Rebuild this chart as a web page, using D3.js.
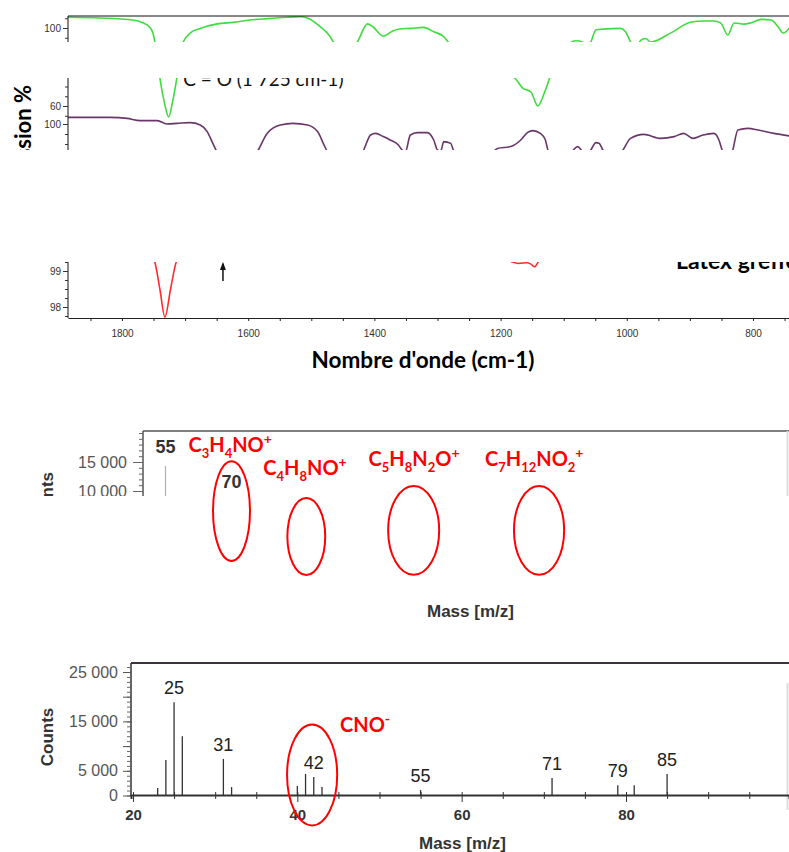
<!DOCTYPE html>
<html lang="fr">
<head>
<meta charset="UTF-8">
<title>IR et ToF-SIMS - latex greffé</title>
<script src="https://d3js.org/d3.v7.min.js"></script>
<style>
    body { margin: 0; background: #fff; }
    svg { display: block; }
</style>
</head>
<body>
<div id="chart"></div>
<script>
// ---- IR spectra : [nombre d'onde cm-1, transmission %] ----
const greenTrace = [
    [1886,105.5],[1835,105.1],[1783,104.1],[1767,102.7],[1757,100.7],[1751,97.4],[1748,92.8],[1744,84],
    [1740,74.4],[1733,62],[1726,54.4],[1720,62],[1713,74.4],[1708,85],[1703,92.8],[1692,97.4],[1676,99.8],
    [1649,102.1],[1624,102.9],[1597,104.1],[1570,104.8],[1538,105.5],[1517,105.8],[1502,104.5],[1486,100.7],
    [1470,95.5],[1465,92.8],[1446,86],[1427,92.8],[1411,102.1],[1402,100.5],[1386,95.9],[1371,98.5],
    [1360,99.5],[1343,99.8],[1322,100.3],[1306,98.1],[1290,95.5],[1283,92.8],[1250,82],[1210,78],
    [1178,74.4],[1165,69.2],[1152,67.2],[1141,60],[1129,68.2],[1122,74.4],[1105,84],[1089,92.5],
    [1081,93.5],[1070,92.8],[1064,89],[1057,92.8],[1049,99],[1037,99.4],[1010,99.8],[1002,98.1],
    [994,92.8],[986,89],[978,93.6],[970,94.6],[962,92.8],[930,97.5],[898,103.1],[878,103.6],[862,103.6],
    [851,102.5],[840,96.4],[830,102.6],[814,102],[803,102.7],[787,104.4],[771,104.1],[760,100.5],
    [752,97.4],[741,100.5]
];
const purpleTrace = [
    [1886,103.3],[1819,103.3],[1792,102.8],[1771,101.7],[1744,101.7],[1729,100],[1713,100.3],[1692,100.7],
    [1676,99.5],[1665,96.2],[1656,90.3],[1651,87],[1620,70],[1584,87],[1570,95.3],[1549,99.5],[1529,100.3],
    [1506,99.5],[1490,96.2],[1481,90.3],[1476,87],[1450,75],[1417,87],[1406,94.5],[1398,95.3],[1386,93.7],
    [1375,92],[1362,89.5],[1356,87],[1351,86],[1343,94.5],[1332,95.7],[1316,95.7],[1306,92],[1300,87],
    [1295,86.5],[1290,91.2],[1279,90.3],[1275,87],[1240,75],[1205,87.8],[1184,88.7],[1168,92],[1157,95.8],
    [1149,96.7],[1137,95.3],[1129,92],[1125,87],[1105,80],[1086,86.5],[1078,88.7],[1071,86.5],[1064,84],
    [1057,87],[1049,90.7],[1044,90.4],[1038,87],[1022,80],[1006,87],[994,92.8],[973,94.8],[946,92.8],
    [925,93.7],[910,95.3],[895,92.8],[879,94.5],[862,95.3],[854,92],[849,87],[840,80],[832,87],[824,97],
    [808,97.8],[792,97],[767,95.3],[741,94]
];
const redTrace = [
    [1886,99.6],[1800,99.6],[1765,99.55],[1752,99.4],[1748,99.25],[1740,98.5],[1732,97.72],[1723,98.5],
    [1714,99.25],[1705,99.45],[1690,99.55],[1600,99.6],[1400,99.6],[1250,99.55],[1200,99.4],[1183,99.26],
    [1172,99.21],[1158,99.23],[1152,99.19],[1146,99.12],[1140,99.26],[1130,99.45],[1100,99.55],[900,99.6],
    [741,99.6]
];
const irTickLabels = [1800, 1600, 1400, 1200, 1000, 800];

// ---- ToF-SIMS, ions positifs ----
const ms1Peaks = [[55, 14300], [70, 9100]];
const ms1Labels = [[55, 16550], [70, 10500]];
const ms1Formulas = ["C3H4NO+", "C4H8NO+", "C5H8N2O+", "C7H12NO2+"];
const ms1FormulaMass = [69.7, 86.7, 111.5, 138.8];
const ms1FormulaLevel = [16700, 12750, 14300, 14300];
// ring: centre m/z, half width (m/z), centre counts, half height (counts)
const ms1Rings = [[70, 4.2, 6550, 8600], [87, 4.3, 2150, 6650], [111.4, 5.8, 3200, 7650], [139.9, 5.7, 3200, 7650]];

// ---- ToF-SIMS, ions négatifs ----
const ms2Peaks = [
    [23,1500],[24,7200],[25,18900],[26,12000],[31,7400],[32,1700],[40,1900],[41,4350],[42,3750],
    [43,1700],[55,1100],[71,3550],[79,2100],[81,2100],[85,4350]
];
const ms2Labels = [25, 31, 42, 55, 71, 79, 85];
const ms2YLabels = [0, 5000, 15000, 25000];
const ms2XLabels = [20, 40, 60, 80];
const ms2Formula = ["CNO-", 45.2, 12850];
const ms2Ring = [41.8, 3.05, 4150, 10200];

const W = 789, H = 852;
const svg = d3.select("#chart").append("svg").attr("width", W).attr("height", H);
const arial = "'Liberation Sans', Arial, sans-serif";
const calibri = "Lato, 'Open Sans', sans-serif";
const fmtSpace = d3.formatLocale({ decimal: ",", thousands: " ", grouping: [3], currency: ["", ""] }).format(",");

// ===================== IR =====================
const irX0 = d3.scaleLinear().domain([1800, 800]).range([122, 753]);
const irX = d3.scaleLinear().domain([irX0.invert(68), irX0.invert(W)]).range([68, W]);
const gY = d3.scaleLinear().domain([100, 60]).range([28, 106]);
const pY = d3.scaleLinear().domain([100, 90]).range([124, 144]);
const rY = d3.scaleLinear().domain([99, 98]).range([271, 307]);

svg.append("clipPath").attr("id", "irclip").append("rect")
    .attr("x", 68).attr("y", 16).attr("width", W - 68).attr("height", 302);

const ir = svg.append("g");
const traces = [[greenTrace, gY, "#3fdc3f"], [purpleTrace, pY, "#6a366a"], [redTrace, rY, "#ff2b2b"]];
traces.forEach(([data, y, col]) => {
    ir.append("path")
        .datum(data)
        .attr("clip-path", "url(#irclip)")
        .attr("fill", "none")
        .attr("stroke", col)
        .attr("stroke-width", 1.6)
        .attr("d", d3.line().x(d => irX(d[0])).y(d => y(d[1])).curve(d3.curveMonotoneX));
});

// frame top + left axis line
ir.append("line").attr("x1", 68).attr("x2", W).attr("y1", 16).attr("y2", 16).attr("stroke", "#111");
ir.append("line").attr("x1", 68).attr("x2", 68).attr("y1", 16).attr("y2", 318).attr("stroke", "#111");

function leftTicks(scale, major, minor, y0, y1) {
    const inside = v => scale(v) >= y0 && scale(v) <= y1;
    ir.append("g").attr("transform", "translate(68,0)")
        .call(d3.axisLeft(scale).tickValues(minor.filter(inside)).tickSize(3).tickFormat(""))
        .call(g => g.select(".domain").remove())
        .call(g => g.selectAll("line").attr("stroke", "#333"));
    ir.append("g").attr("transform", "translate(68,0)")
        .call(d3.axisLeft(scale).tickValues(major.filter(inside)).tickSize(5).tickPadding(2).tickFormat(d3.format("d")))
        .call(g => g.select(".domain").remove())
        .call(g => g.selectAll("line").attr("stroke", "#333"))
        .attr("font-family", arial).attr("font-size", 10)
        .call(g => g.selectAll("text").attr("fill", "#333"));
}
leftTicks(gY, [100, 80, 60], d3.range(50, 106, 5), 16, 116);
leftTicks(pY, [100, 80, 60], d3.range(40, 104, 5), 117, 255);
leftTicks(rY, [99, 98], d3.range(97.75, 99.6, 0.25), 256, 318);

ir.append("g").attr("transform", "translate(0,318)")
    .call(d3.axisBottom(irX)
        .tickValues(d3.range(750, 1900, 50).filter(v => irX(v) >= 68 && irX(v) <= W))
        .tickSize(3).tickSizeOuter(0).tickPadding(9)
        .tickFormat(v => irTickLabels.includes(v) ? v : ""))
    .attr("font-family", arial).attr("font-size", 10)
    .call(g => g.selectAll("line, path").attr("stroke", "#222"))
    .call(g => g.selectAll("text").attr("fill", "#333"));

// arrow at 1640
const ax = irX(1640);
ir.append("line").attr("x1", ax).attr("x2", ax).attr("y1", rY(98.72)).attr("y2", rY(99.2))
    .attr("stroke", "#111").attr("stroke-width", 1.5);
ir.append("path")
    .attr("d", `M${ax},${rY(99.25)} l-3,8 l6,0 z`).attr("fill", "#111");

ir.append("text").attr("transform", "translate(31,85) rotate(-90)")
    .attr("text-anchor", "end").attr("font-family", calibri).attr("font-weight", "bold")
    .attr("font-size", 22).text("Transmission %");
ir.append("text").attr("x", irX(1703)).attr("y", gY(70.3))
    .attr("font-family", calibri).attr("font-size", 19).attr("fill", "#111").text("C = O (1 725 cm-1)");
ir.append("text").attr("x", irX(922)).attr("y", rY(99.06))
    .attr("font-family", calibri).attr("font-weight", "bold").attr("font-size", 23).text("Latex greffé");
ir.append("text").attr("x", 423).attr("y", 368).attr("text-anchor", "middle")
    .attr("font-family", calibri).attr("font-weight", "bold").attr("font-size", 22.5).text("Nombre d'onde (cm-1)");

// ===================== ToF-SIMS (+) =====================
const ms1X0 = d3.scaleLinear().domain([55, 70]).range([165.5, 231.5]);
const ms1X = d3.scaleLinear().domain([ms1X0.invert(143), ms1X0.invert(W)]).range([143, W]);
const ms1Y = d3.scaleLinear().domain([10000, 15000]).range([491, 462]);
const ms1 = svg.append("g");

ms1.append("line").attr("x1", 143).attr("x2", W).attr("y1", 431).attr("y2", 431).attr("stroke", "#555").attr("stroke-width", 1.5);
ms1.append("line").attr("x1", 143).attr("x2", 143).attr("y1", 431).attr("y2", 496).attr("stroke", "#555").attr("stroke-width", 1.5);
ms1.append("line").attr("x1", 787.5).attr("x2", 787.5).attr("y1", 431).attr("y2", 496).attr("stroke", "#ddd").attr("stroke-width", 2);
ms1.append("g").attr("transform", "translate(143,0)")
    .call(d3.axisLeft(ms1Y).tickValues(d3.range(0, 20001, 1000)).tickSize(4).tickFormat(""))
    .call(g => g.select(".domain").remove())
    .call(g => g.selectAll("line").attr("stroke", "#666"));
ms1.append("g").attr("transform", "translate(143,0)")
    .call(d3.axisLeft(ms1Y).tickValues([0, 5000, 10000, 15000]).tickSize(10).tickPadding(6).tickFormat(fmtSpace))
    .call(g => g.select(".domain").remove())
    .call(g => g.selectAll("line").attr("stroke", "#666"))
    .attr("font-family", arial).attr("font-size", 16)
    .call(g => g.selectAll("text").attr("fill", "#555"));

ms1.selectAll(".peak").data(ms1Peaks).join("line")
    .attr("x1", d => ms1X(d[0])).attr("x2", d => ms1X(d[0]))
    .attr("y1", ms1Y(0)).attr("y2", d => ms1Y(d[1]))
    .attr("stroke", "#b0b0b0").attr("stroke-width", 1.2);
ms1.selectAll(".plab").data(ms1Labels).join("text")
    .attr("x", d => ms1X(d[0])).attr("y", d => ms1Y(d[1]))
    .attr("text-anchor", "middle").attr("font-family", arial).attr("font-weight", "bold")
    .attr("font-size", 18).attr("fill", "#333").text(d => d[0]);

ms1.append("text").attr("transform", "translate(53,472) rotate(-90)")
    .attr("text-anchor", "end").attr("font-family", arial).attr("font-weight", "bold")
    .attr("font-size", 17).attr("fill", "#333").text("Counts");
ms1.append("text").attr("x", 427).attr("y", 617)
    .attr("font-family", arial).attr("font-weight", "bold").attr("font-size", 17).attr("fill", "#333").text("Mass [m/z]");

// ===================== masks (cropped figure) =====================
[[42, 78], [150, 262], [496, 590]].forEach(([a, b]) => {
    svg.append("rect").attr("x", 0).attr("y", a).attr("width", W).attr("height", b - a).attr("fill", "#fff");
});

// ===================== annotations (+) =====================
function drawFormula(text, str, fs) {
    const parts = str.match(/[A-Za-z]+|\d+|[+\-]/g);
    let off = 0;
    parts.forEach(p => {
        let target = 0, size = fs;
        if (/^\d+$/.test(p)) { target = fs * 0.3; size = fs * 0.65; }
        else if (p === "+" || p === "-") { target = -fs * 0.4; size = fs * 0.7; }
        text.append("tspan").attr("dy", target - off).attr("font-size", size).text(p);
        off = target;
    });
}

const ann = svg.append("g");
ms1Formulas.forEach((f, i) => {
    const t = ann.append("text").attr("x", ms1X(ms1FormulaMass[i])).attr("y", ms1Y(ms1FormulaLevel[i]))
        .attr("text-anchor", "middle").attr("font-family", calibri).attr("font-weight", "bold")
        .attr("font-size", 20).attr("fill", "#ff0000");
    drawFormula(t, f, 20);
});
ann.selectAll(".ring1").data(ms1Rings).join("ellipse")
    .attr("cx", d => ms1X(d[0])).attr("rx", d => ms1X(d[0] + d[1]) - ms1X(d[0]))
    .attr("cy", d => ms1Y(d[2])).attr("ry", d => ms1Y(d[2] - d[3]) - ms1Y(d[2]))
    .attr("fill", "none").attr("stroke", "#ff0000").attr("stroke-width", 2);

// ===================== ToF-SIMS (-) =====================
const ms2X0 = d3.scaleLinear().domain([20, 80]).range([133, 626]);
const ms2X = d3.scaleLinear().domain([ms2X0.invert(131), ms2X0.invert(W)]).range([131, W]);
const ms2Y = d3.scaleLinear().domain([0, 25000]).range([795.5, 672]);
const ms2 = svg.append("g");

ms2.append("line").attr("x1", 131).attr("x2", W).attr("y1", 663).attr("y2", 663).attr("stroke", "#3d3340").attr("stroke-width", 2);
ms2.append("line").attr("x1", 131).attr("x2", 131).attr("y1", 663).attr("y2", 796).attr("stroke", "#333").attr("stroke-width", 1.5);
ms2.append("line").attr("x1", 787.5).attr("x2", 787.5).attr("y1", 683).attr("y2", 810).attr("stroke", "#ddd").attr("stroke-width", 2);

ms2.append("g").attr("transform", "translate(131,0)")
    .call(d3.axisLeft(ms2Y).tickValues(d3.range(0, 26001, 1000)).tickSize(4).tickFormat(""))
    .call(g => g.select(".domain").remove())
    .call(g => g.selectAll("line").attr("stroke", "#666"));
ms2.append("g").attr("transform", "translate(131,0)")
    .call(d3.axisLeft(ms2Y).tickValues(d3.range(0, 25001, 5000)).tickSize(8).tickPadding(5)
        .tickFormat(v => ms2YLabels.includes(v) ? fmtSpace(v) : ""))
    .call(g => g.select(".domain").remove())
    .call(g => g.selectAll("line").attr("stroke", "#555"))
    .attr("font-family", arial).attr("font-size", 16)
    .call(g => g.selectAll("text").attr("fill", "#555"));

const xTicks = d3.range(20, 100, 5);
ms2.append("g").attr("transform", "translate(0,795)")
    .call(d3.axisTop(ms2X).tickValues(xTicks).tickSize(3).tickFormat(""))
    .call(g => g.select(".domain").remove())
    .call(g => g.selectAll("line").attr("stroke", "#333"));
ms2.append("g").attr("transform", "translate(0,795)")
    .call(d3.axisBottom(ms2X).tickValues(xTicks).tickSizeOuter(0).tickPadding(10)
        .tickSize(4).tickFormat(v => ms2XLabels.includes(v) ? v : ""))
    .call(g => g.selectAll("line").attr("y2", d => ms2XLabels.includes(d) ? 7 : 4).attr("stroke", "#333"))
    .call(g => g.select(".domain").attr("stroke", "#333").attr("stroke-width", 2))
    .attr("font-family", arial).attr("font-size", 15).attr("font-weight", "bold")
    .call(g => g.selectAll("text").attr("fill", "#333"));

ms2.selectAll(".peak").data(ms2Peaks).join("line")
    .attr("x1", d => ms2X(d[0])).attr("x2", d => ms2X(d[0]))
    .attr("y1", ms2Y(0)).attr("y2", d => ms2Y(d[1]))
    .attr("stroke", "#333").attr("stroke-width", 1.3);
const peakMap = new Map(ms2Peaks);
ms2.selectAll(".plab").data(ms2Labels).join("text")
    .attr("x", d => ms2X(d)).attr("y", d => ms2Y(peakMap.get(d)) - 8)
    .attr("text-anchor", "middle").attr("font-family", arial)
    .attr("font-size", 18).attr("fill", "#222").text(d => d);

ms2.append("text").attr("transform", "translate(53,737) rotate(-90)")
    .attr("text-anchor", "middle").attr("font-family", arial).attr("font-weight", "bold")
    .attr("font-size", 17).attr("fill", "#333").text("Counts");
ms2.append("text").attr("x", 419).attr("y", 849)
    .attr("font-family", arial).attr("font-weight", "bold").attr("font-size", 17).attr("fill", "#333").text("Mass [m/z]");

const cno = ms2.append("text").attr("x", ms2X(ms2Formula[1])).attr("y", ms2Y(ms2Formula[2]))
    .attr("font-family", calibri).attr("font-weight", "bold").attr("font-size", 20).attr("fill", "#ff0000");
drawFormula(cno, ms2Formula[0], 20);
ms2.append("ellipse")
    .attr("cx", ms2X(ms2Ring[0])).attr("rx", ms2X(ms2Ring[0] + ms2Ring[1]) - ms2X(ms2Ring[0]))
    .attr("cy", ms2Y(ms2Ring[2])).attr("ry", ms2Y(ms2Ring[2] - ms2Ring[3]) - ms2Y(ms2Ring[2]))
    .attr("fill", "none").attr("stroke", "#ff0000").attr("stroke-width", 2);
</script>
</body>
</html>
